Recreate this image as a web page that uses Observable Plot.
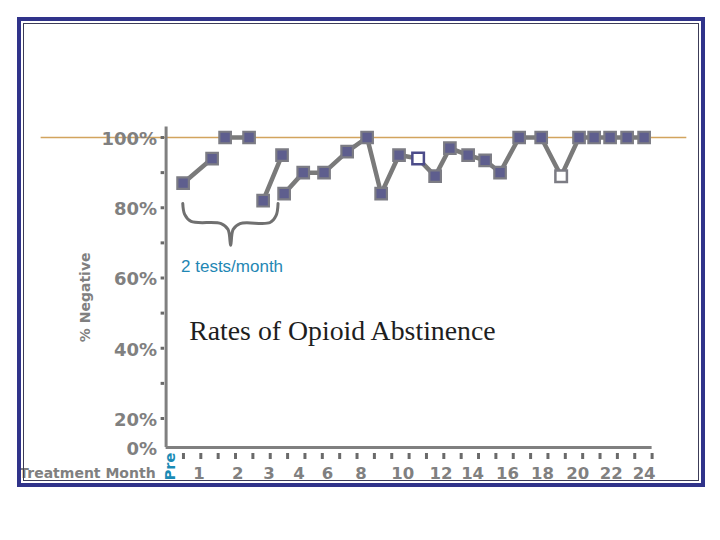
<!DOCTYPE html>
<html><head><meta charset="utf-8">
<script src="https://cdn.jsdelivr.net/npm/d3@7"></script>
<script src="https://cdn.jsdelivr.net/npm/@observablehq/plot@0.6"></script>
<style>
html,body{margin:0;padding:0;background:#fff;}
#wrap{position:relative;width:720px;height:540px;overflow:hidden;}
#chart{position:absolute;left:0;top:0;}
.outer{position:absolute;left:17px;top:17px;width:688px;height:470px;box-sizing:border-box;border:4px solid #30338a;pointer-events:none;}
.inner{position:absolute;left:23px;top:23px;width:676px;height:458px;box-sizing:border-box;border:1.5px solid #3c3c58;pointer-events:none;}
</style></head><body>
<div id="wrap"><div id="chart"></div><div class="outer"></div><div class="inner"></div></div>
<script>
// Test position (tick index along the treatment-month axis) and % negative
const testPos = [0.98, 2.65, 3.40, 4.78, 5.59, 6.68, 6.80, 7.90, 9.10, 10.43, 11.58, 12.39, 13.42, 14.52, 15.50, 16.35, 17.40, 18.38, 19.24, 20.34, 21.61, 22.76, 23.79, 24.66, 25.58, 26.56, 27.54];
const pctNegative = [87, 94, 100, 100, 82, 95, 84, 90, 90, 96, 100, 84, 95, 94, 89, 97, 95, 93.5, 90, 100, 100, 89, 100, 100, 100, 100, 100];
const segment = [1, 1, 2, 2, 3, 3, 4, 4, 4, 4, 4, 4, 4, 4, 4, 4, 4, 4, 4, 4, 4, 4, 4, 4, 4, 4, 4];
const markerKind = ["solid","solid","solid","solid","solid","solid","solid","solid","solid","solid","solid","solid","solid","hollowBlue","solid","solid","solid","solid","solid","solid","solid","hollowGray","solid","solid","solid","solid","solid"];

const xTickLabels = ["Pre", "1", "2", "3", "4", "6", "8", "10", "12", "14", "16", "18", "20", "22", "24"];
const xTickLabelPos = [0.23, 1.90, 4.12, 5.93, 7.66, 9.30, 11.23, 13.63, 15.84, 17.66, 19.67, 21.69, 23.71, 25.64, 27.54];
const xTicks = d3.range(1, 29);
const yTickLabels = [0, 20, 40, 60, 80, 100];
const yTicks = [20, 30, 40, 50, 60, 70, 80, 90, 100];

// curly-brace annotation under the "2 tests/month" period
const braceX = [0.96, 1.07, 1.44, 3.17, 3.57, 3.72, 3.86, 4.26, 5.99, 6.34, 6.45];
const braceY = [81.2, 78.1, 76.1, 75.5, 73.8, 69.3, 73.8, 75.5, 75.8, 77.8, 81.2];

const data = testPos.map((x, i) => ({x, y: pctNegative[i], seg: segment[i], kind: markerKind[i]}));
const brace = braceX.map((x, i) => ({x, y: braceY[i]}));
const labels = xTickLabels.map((t, i) => ({t, x: xTickLabelPos[i]}));

const gray = "#808080";
const tickGray = "#6a6a6a";
const bold = "bold";

const chart = Plot.plot({
  width: 720, height: 540,
  marginTop: 0, marginRight: 0, marginBottom: 0, marginLeft: 0,
  style: {background: "transparent", fontFamily: "DejaVu Sans"},
  x: {type: "linear", domain: [0, 28], range: [165.6, 651.6], axis: null},
  y: {type: "linear", domain: [0, 20, 100], range: [447, 418, 137], axis: null},
  marks: [
    Plot.ruleY([100], {x1: -7.2, x2: 30.0, stroke: "#d2a45e", strokeWidth: 1.5}),
    Plot.ruleX([0], {y1: 0, y2: 103, stroke: gray, strokeWidth: 3}),
    Plot.ruleY([0], {x1: 0, x2: 28, stroke: gray, strokeWidth: 3}),
    Plot.ruleY(yTicks, {y: d => d, x1: 0, x2: 0, insetLeft: -5, insetRight: 1.5, stroke: tickGray, strokeWidth: 3}),
    Plot.ruleX(xTicks, {x: d => d, y1: 0, y2: 0, insetTop: 6, insetBottom: -12, stroke: tickGray, strokeWidth: 3}),
    Plot.text(yTickLabels, {x: 0, y: d => d, text: d => d + "%", textAnchor: "end", dx: -9, dy: 1.5, fontSize: 18, fontWeight: bold, fill: gray}),
    Plot.text(labels.filter(d => d.t !== "Pre"), {x: "x", y: 0, text: "t", dy: 26, fontSize: 16.5, fontWeight: bold, fill: gray}),
    Plot.text(labels.filter(d => d.t === "Pre"), {x: "x", y: 0, text: "t", rotate: -90, dy: 19, fontSize: 14.5, fontWeight: bold, fill: "#1b8bb5"}),
    Plot.text(["Treatment Month"], {x: 0, y: 0, text: d => d, textAnchor: "end", dx: -10.5, dy: 26, fontSize: 14, fontWeight: bold, fill: gray}),
    Plot.text(["% Negative"], {x: 0, y: 54.5, text: d => d, rotate: -90, dx: -80.5, fontSize: 14, fontWeight: bold, fill: gray}),
    Plot.text(["Rates of Opioid Abstinence"], {x: 1.33, y: 44.8, text: d => d, textAnchor: "start", fontFamily: "Liberation Serif", fontSize: 27.8, fill: "#1e1e1e"}),
    Plot.text(["2 tests/month"], {x: 0.86, y: 63.3, text: d => d, textAnchor: "start", fontFamily: "Liberation Sans", fontSize: 17, fill: "#1f87b4"}),
    Plot.line(brace, {x: "x", y: "y", curve: "catmull-rom", stroke: "#707070", strokeWidth: 3}),
    Plot.line(data, {x: "x", y: "y", z: "seg", stroke: "#7a7a7a", strokeWidth: 4.5}),
    Plot.dot(data.filter(d => d.kind === "solid"), {x: "x", y: "y", symbol: "square", r: 6.5, fill: "#5e5e8e", stroke: "#7c7c84", strokeWidth: 2.2}),
    Plot.dot(data.filter(d => d.kind === "hollowBlue"), {x: "x", y: "y", symbol: "square", r: 6.5, fill: "#ffffff", stroke: "#4c4c8a", strokeWidth: 2.5}),
    Plot.dot(data.filter(d => d.kind === "hollowGray"), {x: "x", y: "y", symbol: "square", r: 6.5, fill: "#ffffff", stroke: "#7c7c84", strokeWidth: 2.5})
  ]
});
document.getElementById("chart").appendChild(chart);
</script>
</body></html>
